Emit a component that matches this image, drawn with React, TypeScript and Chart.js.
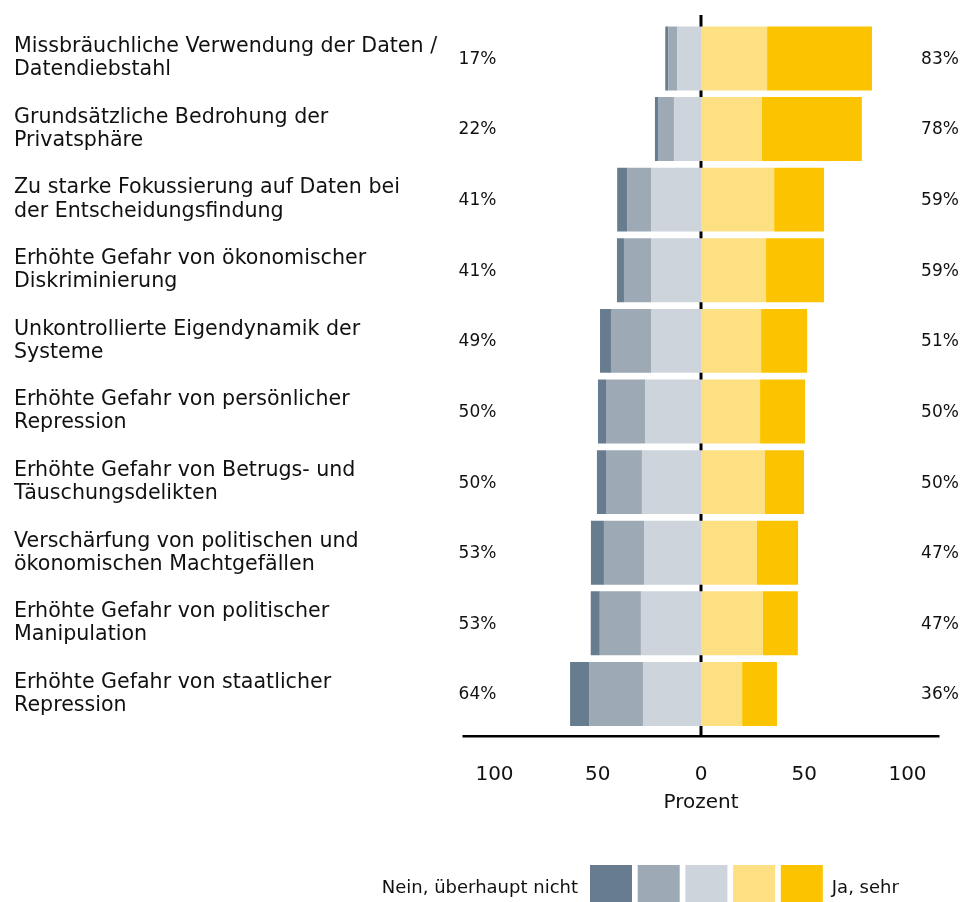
import React, { useEffect, useRef } from "react";
import { Chart, registerables } from "chart.js";

Chart.register(...registerables);

const categories: string[][] = [
  ["Missbräuchliche Verwendung der Daten /", "Datendiebstahl"],
  ["Grundsätzliche Bedrohung der", "Privatsphäre"],
  ["Zu starke Fokussierung auf Daten bei", "der Entscheidungsfindung"],
  ["Erhöhte Gefahr von ökonomischer", "Diskriminierung"],
  ["Unkontrollierte Eigendynamik der", "Systeme"],
  ["Erhöhte Gefahr von persönlicher", "Repression"],
  ["Erhöhte Gefahr von Betrugs- und", "Täuschungsdelikten"],
  ["Verschärfung von politischen und", "ökonomischen Machtgefällen"],
  ["Erhöhte Gefahr von politischer", "Manipulation"],
  ["Erhöhte Gefahr von staatlicher", "Repression"],
];

// Left side (shown as negative values), from the outside inwards
const neinUeberhauptNicht = [1.5, 1.5, 4.8, 3.4, 5.3, 3.9, 4.4, 6.3, 4.4, 9.2];
const eherNein = [4.4, 7.7, 11.6, 13.1, 19.4, 18.9, 17.4, 19.4, 19.9, 26.1];
const wenigerNein = [11.4, 13.1, 24.2, 24.2, 24.2, 27.1, 28.6, 27.6, 29.1, 28.1];
// Right side
const eherJa = [32.0, 29.5, 35.4, 31.5, 29.1, 28.6, 31.0, 27.1, 30.0, 19.9];
const jaSehr = [50.8, 48.4, 24.2, 28.1, 22.3, 21.8, 18.9, 19.9, 16.9, 16.9];

const neinProzent = [17, 22, 41, 41, 49, 50, 50, 53, 53, 64];
const jaProzent = [83, 78, 59, 59, 51, 50, 50, 47, 47, 36];

const xTickValues = [-100, -50, 0, 50, 100];
const xTitle = "Prozent";
const legendLeftText = "Nein, überhaupt nicht";
const legendRightText = "Ja, sehr";
const seriesNames = ["Nein, überhaupt nicht", "Eher nein", "Teils/teils", "Eher ja", "Ja, sehr"];

const COLORS = ["#687c90", "#9daab6", "#cdd4dc", "#fce082", "#fcc400"];
const FONT = "'DejaVu Sans', Verdana, sans-serif";
const TEXT = "#111111";

const customPlugin = {
  id: "customDecor",
  beforeDatasetsDraw(chart: any) {
    const { ctx, chartArea } = chart;
    const xs = chart.scales.x;
    const x0 = xs.getPixelForValue(0);
    ctx.save();
    ctx.strokeStyle = "#000";
    ctx.lineWidth = 3;
    ctx.beginPath();
    ctx.moveTo(x0, 15);
    ctx.lineTo(x0, chartArea.bottom + 7);
    ctx.stroke();
    ctx.restore();
  },
  afterDraw(chart: any) {
    const { ctx, chartArea } = chart;
    const ys = chart.scales.y;
    ctx.save();
    // axis line
    ctx.strokeStyle = "#000";
    ctx.lineWidth = 2.5;
    ctx.beginPath();
    ctx.moveTo(chartArea.left, chartArea.bottom + 7);
    ctx.lineTo(chartArea.right, chartArea.bottom + 7);
    ctx.stroke();

    // percentages
    ctx.fillStyle = TEXT;
    ctx.font = `17px ${FONT}`;
    ctx.textAlign = "center";
    ctx.textBaseline = "middle";
    categories.forEach((_, i) => {
      const y = ys.getPixelForValue(i) + 1;
      ctx.fillText(`${neinProzent[i]}%`, chartArea.left + 15, y);
      ctx.fillText(`${jaProzent[i]}%`, chartArea.right + 0.5, y);
    });

    // legend
    const boxW = 42;
    const step = 47.7;
    const startX = 590;
    const boxTop = 865;
    const boxH = 40;
    COLORS.forEach((c, i) => {
      ctx.fillStyle = c;
      ctx.fillRect(startX + i * step, boxTop, boxW, boxH);
    });
    ctx.fillStyle = TEXT;
    ctx.font = `18px ${FONT}`;
    ctx.textBaseline = "middle";
    ctx.textAlign = "right";
    ctx.fillText(legendLeftText, startX - 12, 888);
    ctx.textAlign = "left";
    ctx.fillText(legendRightText, startX + 4 * step + boxW + 9, 888);
    ctx.restore();
  },
};

export default function App() {
  const canvasRef = useRef<HTMLCanvasElement | null>(null);

  useEffect(() => {
    document.body.style.margin = "0";
    document.body.style.overflow = "hidden";
    const canvas = canvasRef.current;
    if (!canvas) return;

    const datasets = [
      { label: seriesNames[2], data: wenigerNein.map((v) => -v), backgroundColor: COLORS[2] },
      { label: seriesNames[1], data: eherNein.map((v) => -v), backgroundColor: COLORS[1] },
      { label: seriesNames[0], data: neinUeberhauptNicht.map((v) => -v), backgroundColor: COLORS[0] },
      { label: seriesNames[3], data: eherJa, backgroundColor: COLORS[3] },
      { label: seriesNames[4], data: jaSehr, backgroundColor: COLORS[4] },
    ].map((d) => ({ ...d, barPercentage: 0.906, categoryPercentage: 1.0, borderWidth: 0 }));

    const chart = new Chart(canvas, {
      type: "bar",
      data: { labels: categories, datasets },
      options: {
        indexAxis: "y",
        animation: false,
        responsive: true,
        maintainAspectRatio: false,
        layout: { padding: { left: 14, top: 22.7, right: 22.5, bottom: 0 } },
        plugins: { legend: { display: false }, tooltip: { enabled: false } },
        scales: {
          x: {
            type: "linear",
            stacked: true,
            min: -115.5,
            max: 115.5,
            grid: { display: false, drawTicks: false },
            border: { display: false },
            afterBuildTicks: (s: any) => {
              s.ticks = xTickValues.map((v) => ({ value: v }));
            },
            afterFit: (s: any) => {
              s.height = 172.7;
            },
            ticks: {
              callback: (v: any) => String(Math.abs(Number(v))),
              font: { family: FONT, size: 20, lineHeight: 1.2 },
              color: TEXT,
              padding: 33.7,
              maxRotation: 0,
              autoSkip: false,
            },
            title: {
              display: true,
              text: xTitle,
              font: { family: FONT, size: 20, lineHeight: 1.2 },
              color: TEXT,
              padding: { top: 0, bottom: 87 },
            },
          },
          y: {
            type: "category",
            stacked: true,
            grid: { display: false, drawTicks: false },
            border: { display: false },
            afterFit: (s: any) => {
              s.width = 448.5;
            },
            ticks: {
              crossAlign: "far",
              font: { family: FONT, size: 20.6, lineHeight: 1.12 },
              color: TEXT,
              padding: 0,
              autoSkip: false,
            },
          },
        },
      } as any,
      plugins: [customPlugin],
    });

    return () => chart.destroy();
  }, []);

  return (
    <div style={{ position: "relative", width: "962px", height: "902px" }}>
      <canvas ref={canvasRef} />
    </div>
  );
}
